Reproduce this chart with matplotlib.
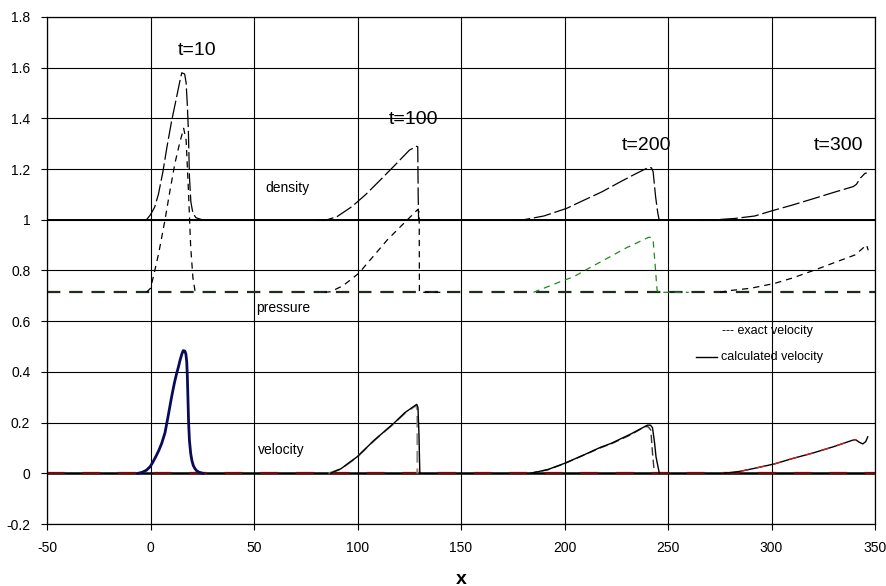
import numpy as np
import matplotlib.pyplot as plt

plt.rcParams['font.family'] = ['Liberation Sans', 'DejaVu Sans']
plt.rcParams['axes.unicode_minus'] = False

# undisturbed states
x_span = [-50, 350]
rho0 = 1.0
p0 = 0.714
u0 = 0.0

# t=10
x_rho10 = [-2, 0, 2, 3.8, 6, 8, 10.2, 12.5, 14, 15.1, 16.5, 17.2, 17.8, 18.3, 18.8, 19.5, 20.5, 22, 25]
rho10 = [1.0, 1.02, 1.05, 1.10, 1.19, 1.29, 1.39, 1.48, 1.54, 1.58, 1.575, 1.54, 1.45, 1.35, 1.17, 1.07, 1.025, 1.008, 1.0]
x_p10 = [-2, 0, 1.4, 4, 7.0, 9.5, 11.8, 14, 16.0, 17.2, 18.3, 19.4, 20.5, 21.5, 23]
p10 = [0.714, 0.73, 0.776, 0.87, 1.0, 1.12, 1.223, 1.30, 1.361, 1.315, 1.118, 0.894, 0.77, 0.72, 0.714]
x_u10 = [-6, -4, -2, -0.2, 1, 2.5, 4, 5.4, 7, 8.5, 10.2, 11.5, 12.5, 13.5, 14.3, 15.2, 15.8, 16.6, 17.1, 17.5,
         17.8, 18.1, 18.4, 18.8, 19.4, 20.0, 20.7, 21.5, 22.3, 23.5, 25.4]
u10 = [0.0, 0.004, 0.012, 0.026, 0.042, 0.065, 0.09, 0.118, 0.16, 0.225, 0.302, 0.355, 0.39, 0.42, 0.447, 0.472, 0.484, 0.482, 0.47, 0.44,
       0.38, 0.29, 0.20, 0.13, 0.079, 0.05, 0.03, 0.018, 0.01, 0.004, 0.0]

# t=100
x_rho100 = [80, 85.2, 90, 97.3, 104, 111, 118, 125.1, 128.6, 129.1, 129.3, 129.5, 140]
rho100 = [1.0, 1.0, 1.012, 1.052, 1.10, 1.157, 1.215, 1.275, 1.29, 1.288, 1.1, 1.0, 1.0]
x_p100 = [84, 86.9, 93, 100.6, 107, 114.3, 121, 127.3, 129.0, 129.8, 129.9, 140]
p100 = [0.714, 0.716, 0.74, 0.789, 0.85, 0.92, 0.975, 1.026, 1.04, 1.03, 0.714, 0.714]
x_u100 = [86.9, 92, 99.8, 108, 117.5, 123, 128.6, 129.2, 129.7, 130.1]
u100 = [0.0, 0.018, 0.065, 0.13, 0.197, 0.24, 0.272, 0.26, 0.15, 0.0]
x_ue100 = [86, 92, 99.8, 108, 117.5, 123, 128.3, 128.9, 128.9]
ue100 = [0.0, 0.017, 0.064, 0.129, 0.196, 0.238, 0.268, 0.25, 0.0]

# t=200
x_rho200 = [175, 180.2, 190, 201, 207.7, 218, 227, 234, 240.7, 242, 242.8, 244, 245.0, 245.7, 255]
rho200 = [1.0, 1.0, 1.015, 1.045, 1.071, 1.11, 1.15, 1.18, 1.207, 1.205, 1.19, 1.091, 1.03, 1.0, 1.0]
x_p200 = [185, 186.9, 198, 204.6, 212, 220.6, 230, 240.7, 242, 242.8, 243.8, 244.7, 245.5, 260]
p200 = [0.714, 0.72, 0.756, 0.776, 0.81, 0.848, 0.89, 0.931, 0.93, 0.92, 0.82, 0.723, 0.714, 0.714]
x_u200 = [183.7, 192, 199.9, 210, 217.5, 222.5, 232, 240.1, 241.5, 242.5, 243.5, 244.2, 245.8]
u200 = [0.0, 0.015, 0.039, 0.075, 0.103, 0.118, 0.155, 0.19, 0.19, 0.18, 0.12, 0.065, 0.0]
x_ue200 = [183, 192, 199.9, 210, 217.5, 222.5, 232, 239, 240.5, 241.7, 242.5, 243.4]
ue200 = [0.0, 0.014, 0.038, 0.074, 0.101, 0.116, 0.152, 0.185, 0.183, 0.17, 0.08, 0.0]

# t=300
x_rho300 = [265, 272.5, 282, 291.9, 300, 310, 320.9, 330, 339.5, 341, 343, 345.1, 346]
rho300 = [1.0, 1.0, 1.005, 1.015, 1.035, 1.058, 1.085, 1.108, 1.131, 1.14, 1.165, 1.183, 1.185]
x_p300 = [275, 279, 290, 301.4, 310, 320.9, 330, 340.2, 343, 345.9, 346.7]
p300 = [0.714, 0.72, 0.73, 0.749, 0.77, 0.802, 0.83, 0.861, 0.88, 0.901, 0.88]
x_u300 = [277.2, 285, 292, 301.4, 310, 320, 330, 338.6, 340.5, 342.5, 344.1, 345.5, 346.5]
u300 = [0.0, 0.008, 0.02, 0.037, 0.058, 0.08, 0.105, 0.129, 0.133, 0.122, 0.116, 0.125, 0.144]
x_ue300 = [285, 292, 301.4, 310, 320, 330, 338.6, 341]
ue300 = [0.008, 0.02, 0.037, 0.058, 0.08, 0.105, 0.129, 0.133]

fig = plt.figure(figsize=(8.87, 5.86), dpi=100)
ax = fig.add_axes([0.053, 0.1058, 0.9335, 0.8652])

ax.set_xlim(-50, 350)
ax.set_ylim(-0.2, 1.8)
ax.set_xticks(np.arange(-50, 351, 50))
ax.set_yticks(np.arange(-0.2, 1.81, 0.2))
ax.set_yticklabels(['-0.2', '0', '0.2', '0.4', '0.6', '0.8', '1', '1.2', '1.4', '1.6', '1.8'])
ax.grid(True, color='black', lw=0.8)
ax.set_axisbelow(True)
ax.tick_params(direction='out', length=4, width=0.8, labelsize=10, pad=8)
for s in ax.spines.values():
    s.set_color('black')
    s.set_linewidth(0.9)
fig.text(0.52, 0.004, 'x', fontsize=14, fontweight='bold', ha='center', va='baseline')

long_dash = (0, (14, 3))
short_dash = (0, (5, 4))

# background states
ax.plot(x_span, [rho0, rho0], color='black', lw=1.4)
ax.plot(x_span, [p0, p0], color='#1e2e1e', lw=1.6, ls=(0, (6, 4)))
ax.plot(x_span, [u0, u0], color='black', lw=1.8)
ax.plot(x_span, [u0, u0], color='#7a0a0a', lw=1.6, ls=(0, (8, 8)))

# density
for xx, yy in [(x_rho10, rho10), (x_rho100, rho100), (x_rho200, rho200), (x_rho300, rho300)]:
    ax.plot(xx, yy, color='black', lw=0.9, ls=long_dash)

# pressure
ax.plot(x_p10, p10, color='black', lw=0.9, ls=short_dash)
ax.plot(x_p100, p100, color='black', lw=0.9, ls=short_dash)
ax.plot(x_p200, p200, color='#1f8a1f', lw=0.9, ls=short_dash)
ax.plot(x_p300, p300, color='black', lw=0.9, ls=short_dash)

# velocity
ax.plot(x_u10, u10, color='#0a0a5a', lw=2.0)
ax.plot(x_ue100, ue100, color='#888888', lw=1.4, ls=(0, (6, 3)))
ax.plot(x_u100, u100, color='black', lw=1.0)
ax.plot(x_ue200, ue200, color='#333333', lw=1.0, ls=(0, (6, 3)))
ax.plot(x_u200, u200, color='black', lw=1.0)
ax.plot(x_u300, u300, color='black', lw=1.0)
ax.plot(x_ue300, ue300, color='#cc2222', lw=1.0, ls=(0, (6, 6)))

# labels
ax.text(22.3, 1.667, 't=10', fontsize=14, ha='center', va='center')
ax.text(127, 1.394, 't=100', fontsize=14, ha='center', va='center')
ax.text(239.4, 1.295, 't=200', fontsize=14, ha='center', va='center')
ax.text(332.3, 1.295, 't=300', fontsize=14, ha='center', va='center')
ax.text(55.3, 1.124, 'density', fontsize=10, ha='left', va='center')
ax.text(51, 0.651, 'pressure', fontsize=10, ha='left', va='center')
ax.text(52, 0.092, 'velocity', fontsize=10, ha='left', va='center')

ax.text(276, 0.56, '--- exact velocity', fontsize=9, ha='left', va='center')
ax.plot([263.5, 273.7], [0.459, 0.459], color='black', lw=1.0)
ax.text(275.6, 0.459, 'calculated velocity', fontsize=9, ha='left', va='center')

plt.savefig('out.png', dpi=100)
